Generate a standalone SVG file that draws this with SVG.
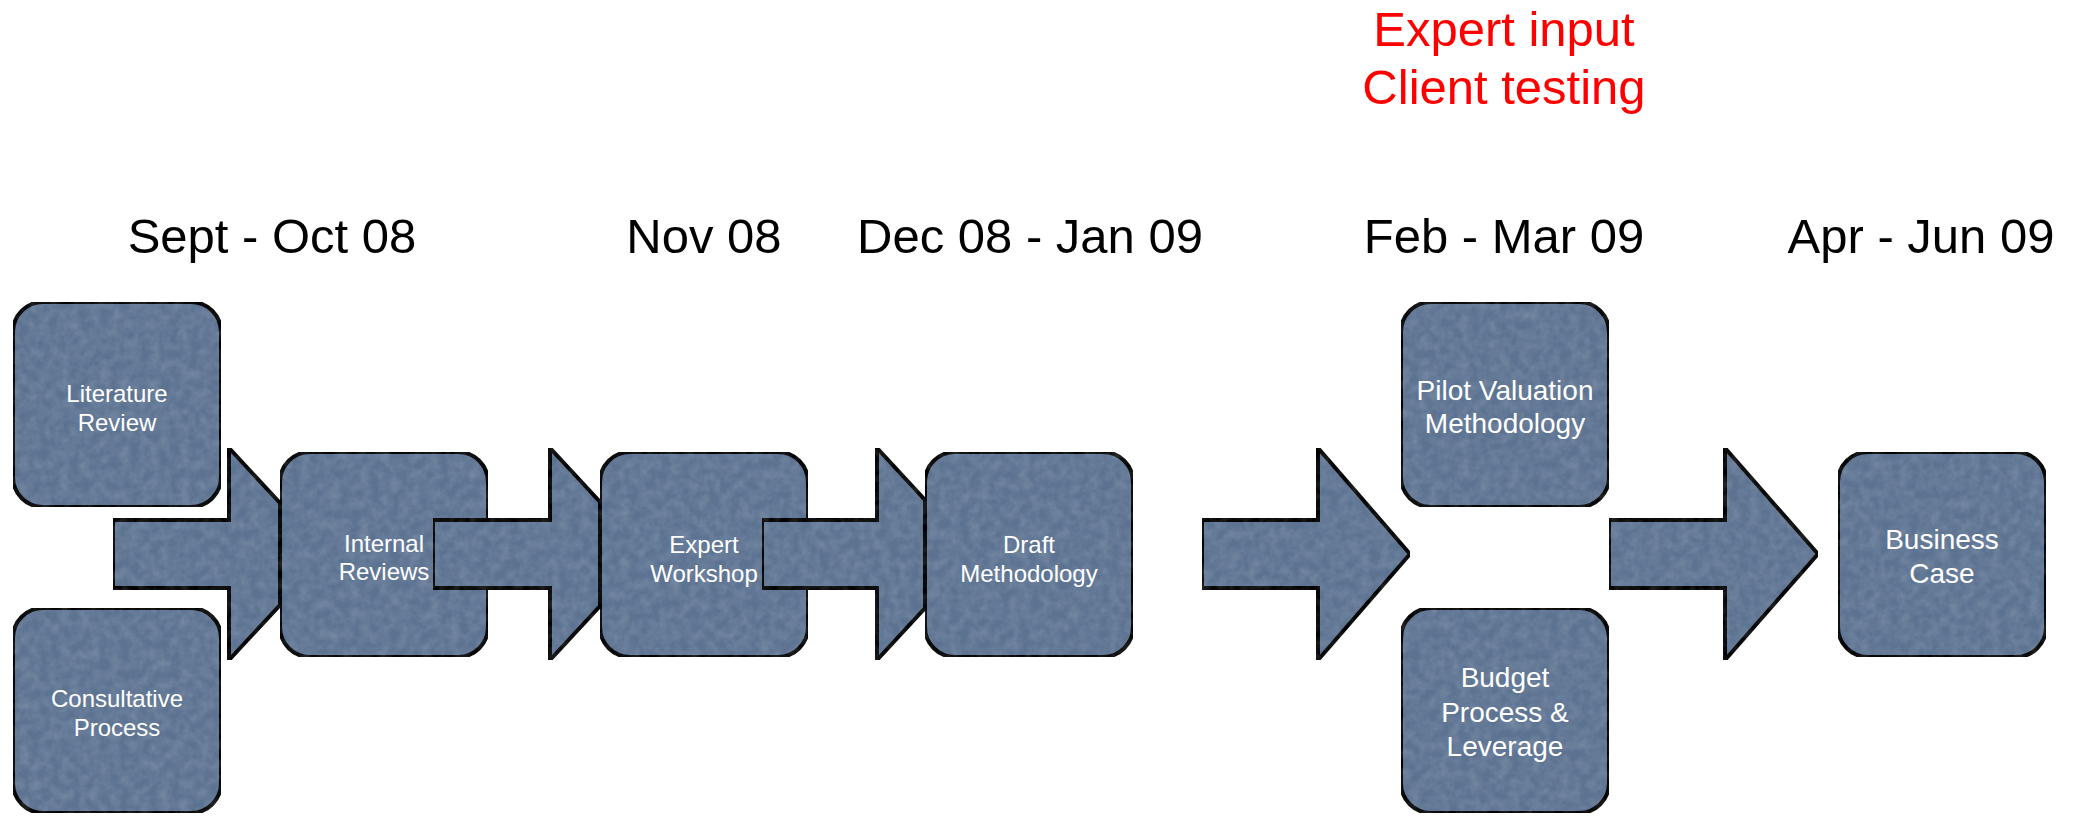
<svg xmlns="http://www.w3.org/2000/svg" width="2078" height="818" viewBox="0 0 2078 818">
  <defs>
    <filter id="tex" x="0" y="0" width="1" height="1" color-interpolation-filters="sRGB">
      <feTurbulence type="fractalNoise" baseFrequency="0.1" numOctaves="3" seed="4" result="n"/>
      <feColorMatrix in="n" type="matrix" values="0 0 0 0 1  0 0 0 0 1  0 0 0 0 1  0.25 0 0 0 -0.07" result="w"/>
      <feComposite in="w" in2="SourceGraphic" operator="in" result="wm"/>
      <feMerge><feMergeNode in="SourceGraphic"/><feMergeNode in="wm"/></feMerge>
    </filter>
  </defs>
  <style>
    .box { fill: #5b7291; stroke: #000; stroke-width: 4; filter: url(#tex); }
    .arrow { fill: #5b7291; stroke: #000; stroke-width: 4; stroke-linejoin: miter; filter: url(#tex); }
    .lbl { fill: #fff; font-family: "Liberation Sans", Arial, sans-serif; font-size: 24px; text-anchor: middle; }
    .lbl.big { font-size: 28px; }
    .date { fill: #000; font-family: "Liberation Sans", Arial, sans-serif; font-size: 49px; text-anchor: middle; }
    .note { fill: #ff0000; font-family: "Liberation Sans", Arial, sans-serif; font-size: 49px; text-anchor: middle; }
  </style>
  <rect width="2078" height="818" fill="#fff"/>

  <g id="labels">
    <text class="note" x="1504" y="46">Expert input</text>
    <text class="note" x="1504" y="104">Client testing</text>
    <text class="date" x="272" y="253">Sept - Oct 08</text>
    <text class="date" x="704" y="253">Nov 08</text>
    <text class="date" x="1030" y="253">Dec 08 - Jan 09</text>
    <text class="date" x="1504" y="253">Feb - Mar 09</text>
    <text class="date" x="1921" y="253">Apr - Jun 09</text>
  </g>

  <g id="node-literature-review">
    <rect class="box" x="13" y="302" width="208" height="205" rx="30"/>
    <text class="lbl" x="117" y="402">Literature</text>
    <text class="lbl" x="117" y="431">Review</text>
  </g>
  <g id="node-consultative-process">
    <rect class="box" x="13" y="608" width="208" height="205" rx="30"/>
    <text class="lbl" x="117" y="707">Consultative</text>
    <text class="lbl" x="117" y="736">Process</text>
  </g>
  <g id="node-internal-reviews">
    <rect class="box" x="280" y="452" width="208" height="205" rx="30"/>
    <text class="lbl" x="384" y="552">Internal</text>
    <text class="lbl" x="384" y="580">Reviews</text>
  </g>
  <g id="node-expert-workshop">
    <rect class="box" x="600" y="452" width="208" height="205" rx="30"/>
    <text class="lbl" x="704" y="553">Expert</text>
    <text class="lbl" x="704" y="582">Workshop</text>
  </g>
  <g id="node-draft-methodology">
    <rect class="box" x="925" y="452" width="208" height="205" rx="30"/>
    <text class="lbl" x="1029" y="553">Draft</text>
    <text class="lbl" x="1029" y="582">Methodology</text>
  </g>
  <g id="node-pilot-valuation">
    <rect class="box" x="1401" y="302" width="208" height="205" rx="30"/>
    <text class="lbl big" x="1505" y="400">Pilot Valuation</text>
    <text class="lbl big" x="1505" y="433">Methodology</text>
  </g>
  <g id="node-budget-process">
    <rect class="box" x="1401" y="608" width="208" height="205" rx="30"/>
    <text class="lbl big" x="1505" y="687">Budget</text>
    <text class="lbl big" x="1505" y="722">Process &amp;</text>
    <text class="lbl big" x="1505" y="756">Leverage</text>
  </g>
  <g id="node-business-case">
    <rect class="box" x="1838" y="452" width="208" height="205" rx="30"/>
    <text class="lbl big" x="1942" y="549">Business</text>
    <text class="lbl big" x="1942" y="583">Case</text>
  </g>

  <g id="connectors">
    <path class="arrow" d="M113,520 H229 V448 L280,503 V605 L229,660 V588 H113 Z"/>
    <path class="arrow" d="M433,520 H550 V448 L600,502 V606 L550,660 V588 H433 Z"/>
    <path class="arrow" d="M762,520 H877 V448 L925,500 V608 L877,660 V588 H762 Z"/>
    <path class="arrow" d="M1202,520 H1318 V448 L1410,554 L1318,660 V588 H1202 Z"/>
    <path class="arrow" d="M1609,520 H1725 V448 L1818,554 L1725,660 V588 H1609 Z"/>
  </g>
</svg>
